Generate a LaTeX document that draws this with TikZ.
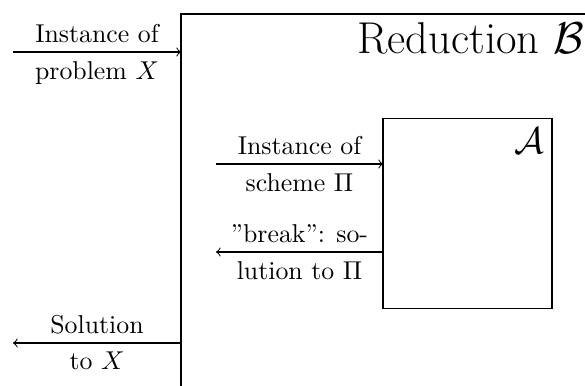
\documentclass[tikz,border=0pt]{standalone}
\usetikzlibrary{arrows}
\begin{document}
\begin{tikzpicture}[x=0.3876pt, y=-0.3876pt, >=to,
    lbl/.style={font=\normalsize},
    boxA/.style={draw, rectangle, inner sep=0pt, outer sep=0pt,
                 minimum width=65.5pt, minimum height=73.3pt}]
  % visible window of the picture
  \clip (0,0) rectangle (585,385);

  % the reduction B (only its top-left part is in view)
  \draw (181,14) rectangle (720,440);
  \node[anchor=base west, inner sep=0pt, font=\LARGE] (redB) at (357,53.3) {Reduction $\mathcal{B}$};

  % the adversary A inside the reduction
  \node[boxA] (A) at (467.5,213.5) {};
  \node[anchor=base east, inner sep=0pt, font=\Large] (calA) at (545,153) {$\mathcal{A}$};

  % end points of the connectors
  \coordinate (inX)   at (13,52);
  \coordinate (inXB)  at (181,52);
  \coordinate (outX)  at (13,343);
  \coordinate (outXB) at (181,343);
  \coordinate (inPi)  at (216,164);
  \coordinate (outPi) at (216,252);

  % outer interface of B
  \draw[->] (inX) -- node[above, lbl] {Instance of} node[below, lbl] {problem $X$} (inXB);
  \draw[->] (outXB) -- node[above, lbl] {Solution} node[below, lbl] {to $X$} (outX);

  % interface between B and A
  \draw[->] (inPi) -- node[above, lbl] {Instance of} node[below, lbl] {scheme $\Pi$} (inPi -| A.west);
  \draw[->] (outPi -| A.west) -- node[above, lbl] {''break'': so-} node[below, lbl] {lution to $\Pi$} (outPi);
\end{tikzpicture}
\end{document}
